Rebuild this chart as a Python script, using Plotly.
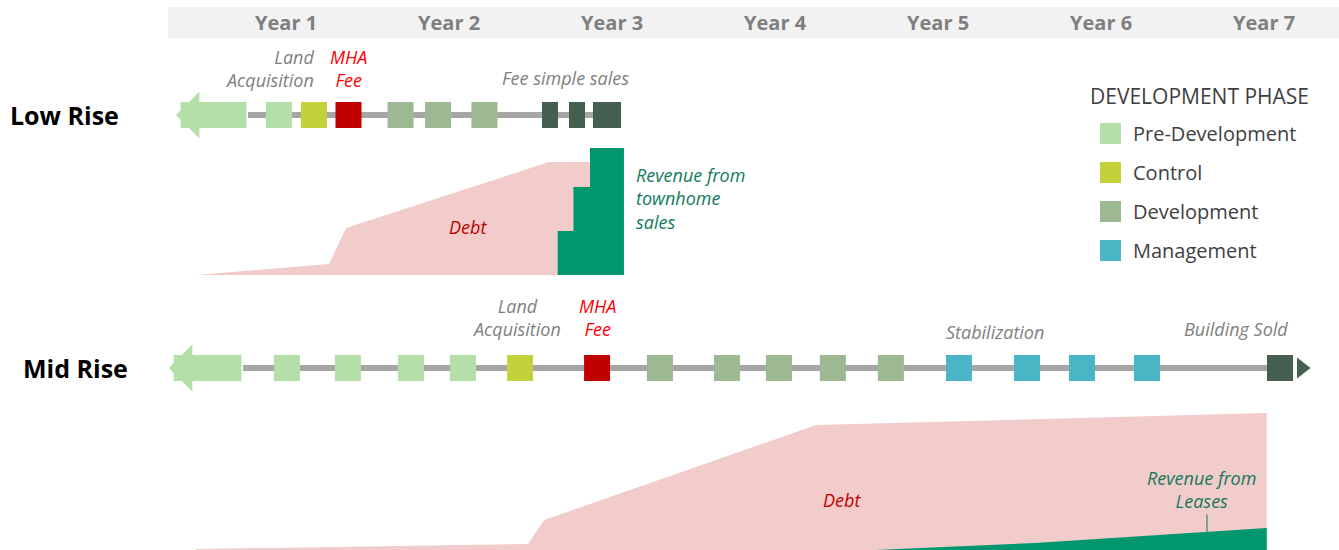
import numpy as np
import plotly.graph_objects as go

# ------------------------------------------------------------------ data
# time unit: months from project start (Year k is centred on month 12k-6)
YEAR_LABELS = ["Year 1", "Year 2", "Year 3", "Year 4", "Year 5", "Year 6", "Year 7"]
YEAR_CENTERS = [6, 18, 30, 42, 54, 66, 78]

LANE_NAMES = ["Low Rise", "Mid Rise"]
LANE_POS = [1, 0]

PHASES = ["Pre-Development", "Control", "Development", "Management"]
PHASE_COLORS = ["#b5dfa8", "#c3d13b", "#9db994", "#4ab5c5"]

# milestone squares on each timeline
LOW_EVENT_MONTHS = [5.48, 8.06, 10.6, 14.43, 17.19, 20.61]
LOW_EVENT_PHASES = ["Pre-Development", "Control", "MHA Fee",
                    "Development", "Development", "Development"]
MID_EVENT_MONTHS = [6.07, 10.56, 15.2, 19.03, 23.23, 28.9, 33.53, 38.46, 42.29,
                    46.26, 50.53, 55.54, 60.55, 64.6, 69.38]
MID_EVENT_PHASES = ["Pre-Development"] * 4 + ["Control", "MHA Fee"] + \
                   ["Development"] * 5 + ["Management"] * 4

# sales (dark blocks)
LOW_SALE_MONTHS = [25.43, 27.42, 29.62]
LOW_SALE_WIDTHS = [1.2, 1.18, 2.06]
MID_SALE_MONTHS = [79.17]
MID_SALE_WIDTHS = [1.91]
MID_END_ARROW = 80.76

# timeline extents
TIMELINE_START = [3.2, 2.83]
TIMELINE_END = [29.62, 79.17]
ARROW_TIP = [-2.1, -2.62]

# finance curves (index, 100 = peak)
LOW_DEBT_MONTHS = [-0.63, 5.63, 9.17, 10.42, 25.36, 28.38]
LOW_DEBT_VALUES = [0, 5.5, 8.7, 37.0, 89.0, 89.0]
TOWNHOME_EDGES = [26.0, 27.16, 28.38, 30.88]
TOWNHOME_REVENUE = [34.6, 69.3, 100]

MID_DEBT_MONTHS = [-0.63, 23.82, 25.0, 45.02, 78.2]
MID_DEBT_VALUES = [0.7, 4.4, 21.9, 91.2, 100]
LEASE_MONTHS = [49.36, 61.14, 78.2]
LEASE_REVENUE = [0, 5.1, 16.1]

# ------------------------------------------------------------------ style
FONT = "Open Sans"
GRAY_TXT = "#7f7f7f"
DARK_TXT = "#404040"
RED = "#c00000"
MHA_TXT = "#ff0000"
DARK_GREEN = "#445e4f"
LINE_GRAY = "#a6a6a6"
DEBT_PINK = "#f2cbcb"
REV_GREEN = "#00976f"
REV_TXT = "#127a5c"
MHA_COLOR = "#c00000"

X_RANGE = [-15.055, 83.52]
Y_RANGE = [-0.7194, 1.4545]
SQ_H = 0.1028      # lane units (=26 px)
LINE_H = 0.0237    # lane units (=6 px)

fig = go.Figure()

# gray timeline lines (horizontal bars)
fig.add_trace(go.Bar(
    orientation="h", y=LANE_POS,
    x=[e - s for s, e in zip(TIMELINE_START, TIMELINE_END)],
    base=TIMELINE_START, width=LINE_H, marker=dict(color=LINE_GRAY, line=dict(width=0)),
    showlegend=False, hoverinfo="skip"))

# sale blocks
sale_x = LOW_SALE_MONTHS + MID_SALE_MONTHS
sale_w = LOW_SALE_WIDTHS + MID_SALE_WIDTHS
sale_lane = [LANE_POS[0]] * len(LOW_SALE_MONTHS) + [LANE_POS[1]] * len(MID_SALE_MONTHS)
fig.add_trace(go.Bar(
    x=sale_x, y=[SQ_H] * len(sale_x), base=[l - SQ_H / 2 for l in sale_lane],
    width=sale_w, marker=dict(color=DARK_GREEN, line=dict(width=0)),
    showlegend=False, hoverinfo="skip"))

# end arrow for mid rise
fig.add_trace(go.Scatter(
    x=[MID_END_ARROW], y=[LANE_POS[1]], mode="markers",
    marker=dict(symbol="triangle-right", size=18, color=DARK_GREEN),
    showlegend=False, hoverinfo="skip"))

# phase squares
all_months = LOW_EVENT_MONTHS + MID_EVENT_MONTHS
all_phases = LOW_EVENT_PHASES + MID_EVENT_PHASES
all_lanes = [LANE_POS[0]] * len(LOW_EVENT_MONTHS) + [LANE_POS[1]] * len(MID_EVENT_MONTHS)

mx = [m for m, p in zip(all_months, all_phases) if p == "MHA Fee"]
my = [l for l, p in zip(all_lanes, all_phases) if p == "MHA Fee"]
fig.add_trace(go.Scatter(
    x=mx, y=my, mode="markers",
    marker=dict(symbol="square", size=21, color=MHA_COLOR, line=dict(width=5, color=MHA_COLOR)),
    showlegend=False, hoverinfo="skip"))

for phase, col in zip(PHASES, PHASE_COLORS):
    px = [m for m, p in zip(all_months, all_phases) if p == phase]
    py = [l for l, p in zip(all_lanes, all_phases) if p == phase]
    fig.add_trace(go.Scatter(
        x=px, y=py, mode="markers", name=phase, legendgroup=phase,
        marker=dict(symbol="square", size=21, color=col, line=dict(width=5, color=col)),
        hoverinfo="skip"))

# low-rise finance
fig.add_trace(go.Scatter(
    x=LOW_DEBT_MONTHS, y=LOW_DEBT_VALUES, yaxis="y2", mode="lines",
    line=dict(width=0, color=DEBT_PINK), fill="tozeroy", fillcolor=DEBT_PINK,
    showlegend=False, hoverinfo="skip"))
step_x = [TOWNHOME_EDGES[0]] + TOWNHOME_EDGES
step_y = [0] + TOWNHOME_REVENUE + [TOWNHOME_REVENUE[-1]]
fig.add_trace(go.Scatter(
    x=step_x, y=step_y, yaxis="y2", mode="lines", line_shape="hv",
    line=dict(width=0, color=REV_GREEN), fill="tozeroy", fillcolor=REV_GREEN,
    showlegend=False, hoverinfo="skip"))

# mid-rise finance
fig.add_trace(go.Scatter(
    x=MID_DEBT_MONTHS, y=MID_DEBT_VALUES, yaxis="y3", mode="lines",
    line=dict(width=0, color=DEBT_PINK), fill="tozeroy", fillcolor=DEBT_PINK,
    showlegend=False, hoverinfo="skip"))
fig.add_trace(go.Scatter(
    x=LEASE_MONTHS, y=LEASE_REVENUE, yaxis="y3", mode="lines",
    line=dict(width=0, color=REV_GREEN), fill="tozeroy", fillcolor=REV_GREEN,
    showlegend=False, hoverinfo="skip"))

# ------------------------------------------------------------------ annotations
ann = []
for lab, xc in zip(YEAR_LABELS, YEAR_CENTERS):
    ann.append(dict(text=f"<b>{lab}</b>", x=xc, xref="x", y=1 - 22 / 550, yref="paper",
                    yanchor="middle", showarrow=False, font=dict(size=20, color=GRAY_TXT)))

for name, lane, cx in zip(LANE_NAMES, LANE_POS, [64.5, 75]):
    ann.append(dict(text=f"<b>{name}</b>", x=cx / 1339, xref="paper", xanchor="center",
                    y=lane, yref="y", yanchor="middle", showarrow=False,
                    font=dict(size=25, color="#000000")))

# left arrows (pre-history)
for lane, tip, start in zip(LANE_POS, ARROW_TIP, TIMELINE_START):
    ann.append(dict(text="", x=tip, y=lane, xref="x", yref="y", ax=start, ay=lane,
                    axref="x", ayref="y", showarrow=True, arrowhead=1, arrowsize=0.3,
                    arrowwidth=26, arrowcolor=PHASE_COLORS[0], standoff=0,
                    font=dict(size=1)))

ital = dict(size=18, color=GRAY_TXT)
# low rise labels
ann.append(dict(text="<i>Land<br>Acquisition</i>", x=8.2, xref="x", y=LANE_POS[0], yref="y",
                yshift=46, xanchor="right", align="right", showarrow=False, font=ital))
ann.append(dict(text="<i>MHA<br>Fee</i>", x=10.6, xref="x", y=LANE_POS[0], yref="y",
                yshift=46, showarrow=False, font=dict(size=18, color=MHA_TXT)))
ann.append(dict(text="<i>Fee simple sales</i>", x=26.6, xref="x", y=LANE_POS[0], yref="y",
                yshift=37, showarrow=False, font=ital))
# mid rise labels
ann.append(dict(text="<i>Land<br>Acquisition</i>", x=23.0, xref="x", y=LANE_POS[1], yref="y",
                yshift=50, showarrow=False, font=ital))
ann.append(dict(text="<i>MHA<br>Fee</i>", x=28.9, xref="x", y=LANE_POS[1], yref="y",
                yshift=50, showarrow=False, font=dict(size=18, color=MHA_TXT)))
ann.append(dict(text="<i>Stabilization</i>", x=58.2, xref="x", y=LANE_POS[1], yref="y",
                yshift=36, showarrow=False, font=ital))
ann.append(dict(text="<i>Building Sold</i>", x=75.94, xref="x", y=LANE_POS[1], yref="y",
                yshift=39, showarrow=False, font=ital))

# finance labels
ann.append(dict(text="<i>Debt</i>", x=19.4, xref="x", y=37.8, yref="y2",
                showarrow=False, font=dict(size=18, color=RED)))
ann.append(dict(text="<i>Revenue from<br>townhome<br>sales</i>", x=31.6, xref="x", y=60.6,
                yref="y2", xanchor="left", align="left", showarrow=False,
                font=dict(size=18, color=REV_TXT)))
ann.append(dict(text="<i>Debt</i>", x=46.9, xref="x", y=36.5, yref="y3",
                showarrow=False, font=dict(size=18, color=RED)))
ann.append(dict(text="<i>Revenue from<br>Leases</i>", x=73.43, xref="x", y=43.8, yref="y3",
                showarrow=False, font=dict(size=18, color=REV_TXT)))
ptr_x = 73.8
ptr_y = float(np.interp(ptr_x, LEASE_MONTHS, LEASE_REVENUE))
ann.append(dict(text="", x=ptr_x, y=ptr_y, xref="x", yref="y3", ax=ptr_x, ay=27.0,
                axref="x", ayref="y3", showarrow=True, arrowhead=0, arrowwidth=1,
                arrowcolor=REV_TXT, standoff=0, font=dict(size=1)))

# legend heading
ann.append(dict(text="DEVELOPMENT PHASE", x=1088 / 1339, xref="paper", xanchor="left",
                y=1 - 96 / 550, yref="paper", yanchor="middle", showarrow=False,
                font=dict(size=21, color=DARK_TXT)))

fig.update_layout(
    width=1339, height=550,
    margin=dict(l=0, r=0, t=0, b=0),
    paper_bgcolor="white", plot_bgcolor="rgba(0,0,0,0)",
    font=dict(family=FONT, color=DARK_TXT),
    barmode="overlay", bargap=0,
    xaxis=dict(range=X_RANGE, visible=False, fixedrange=True),
    yaxis=dict(range=Y_RANGE, domain=[0, 1], visible=False, fixedrange=True),
    yaxis2=dict(range=[0, 100], domain=[1 - 275 / 550, 1 - 148 / 550], visible=False,
                fixedrange=True),
    yaxis3=dict(range=[0, 100], domain=[0, 1 - 413 / 550], visible=False, fixedrange=True),
    shapes=[dict(type="rect", xref="paper", yref="paper", x0=168 / 1339, x1=1,
                 y0=1 - 38 / 550, y1=1 - 7 / 550, fillcolor="#f2f2f2", line=dict(width=0),
                 layer="below")],
    annotations=ann,
    legend=dict(
        font=dict(size=20, color=DARK_TXT),
        x=1088 / 1339, xanchor="left", y=1 - 114 / 550, yanchor="top",
        bgcolor="rgba(0,0,0,0)", itemwidth=35, tracegroupgap=10,
    ),
    showlegend=True,
)

fig.write_html("out.html", config={"displayModeBar": False},
               post_script="document.body.style.margin='0';")
